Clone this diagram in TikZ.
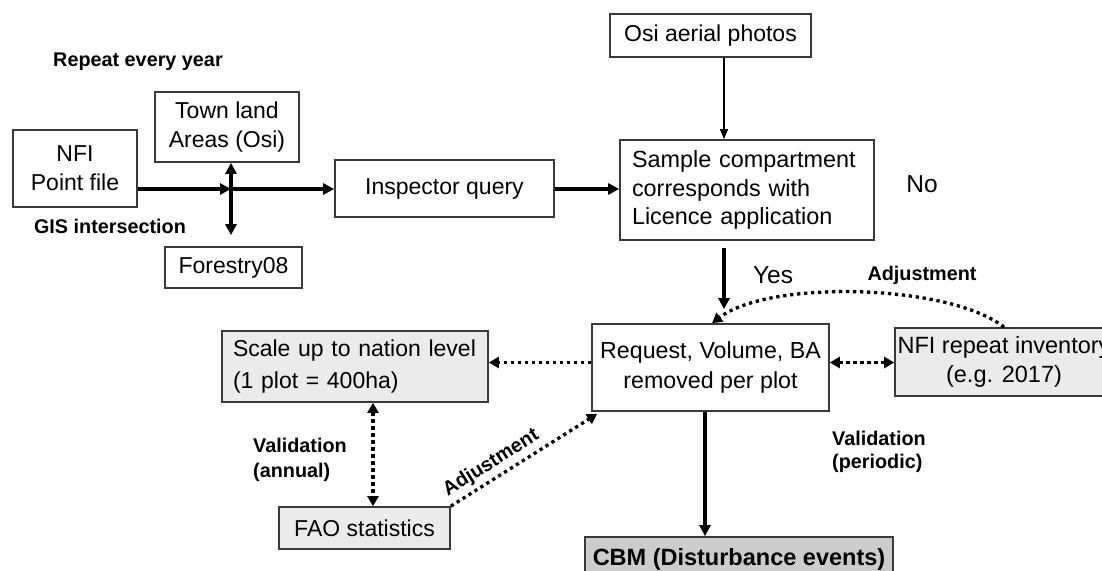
\documentclass[tikz,border=0pt]{standalone}
\usepackage{fontspec}
\setmainfont{Liberation Sans}
\usetikzlibrary{arrows.meta}
\definecolor{boxline}{HTML}{3A3A3A}
\definecolor{lightfill}{HTML}{EBEBEB}
\definecolor{darkfill}{HTML}{CCCCCC}
\begin{document}
\begin{tikzpicture}[x=1pt,y=-1pt,
  box/.style={draw=boxline, line width=1.7pt, inner sep=0pt, align=center,
    font=\fontsize{23}{29}\selectfont},
  graybox/.style={box, fill=lightfill},
  lbl/.style={font=\bfseries\fontsize{19.8}{25}\selectfont, inner sep=0pt},
  big/.style={font=\fontsize{24.5}{28}\selectfont, inner sep=0pt},
  thickarr/.style={line width=3.6pt, -{Triangle[length=11pt,width=11pt]}},
  thinarr/.style={line width=1.4pt, -{Triangle[length=10pt,width=8pt]}},
  dotline/.style={line width=3.3pt, dash pattern=on 3.3pt off 3.7pt},
  dotarr/.style={dotline, -{Triangle[length=10pt,width=11pt]}},
  dotdbl/.style={dotline, {Triangle[length=10pt,width=11pt]}-{Triangle[length=10pt,width=11pt]}}
]
\useasboundingbox (0,0) rectangle (1102,570);
\clip (0,0) rectangle (1102,570);

% nodes
\node[box, minimum width=124pt, minimum height=77pt] (nfi) at (75,168.5) {NFI\\Point file};
\node[box, minimum width=144pt, minimum height=70pt] (town) at (227,127) {Town land\\Areas (Osi)};
\node[box, minimum width=137pt, minimum height=41pt] (forestry) at (233.5,267.5) {Forestry08};
\node[box, minimum width=219pt, minimum height=57pt] (inspector) at (444.5,188.5) {Inspector query};
\node[box, minimum width=201pt, minimum height=43pt] (osi) at (710.5,35.5) {Osi aerial photos};
\node[box, minimum width=254pt, minimum height=100pt, text width=230pt, align=left,
  font=\fontsize{23.4}{28.5}\selectfont] (sample) at (747,190)
  {Sample compartment\\corresponds with\\Licence application};
\node[box, fill=white, minimum width=237pt, minimum height=87pt, font=\fontsize{23.2}{30}\selectfont] (request) at (710.5,367.5)
  {Request, Volume, BA\\removed per plot};
\node[graybox, minimum width=218pt, minimum height=68pt, font=\fontsize{23.5}{29}\selectfont] (nfirep) at (1004,362)
  {NFI repeat inventory\\(e.g. 2017)};
\node[graybox, minimum width=266pt, minimum height=71pt, text width=244pt, align=left,
  font=\fontsize{23}{32}\selectfont] (scale) at (355,366.5)
  {Scale up to nation level\\(1 plot = 400ha)};
\node[graybox, minimum width=171pt, minimum height=42pt] (fao) at (364.5,528) {FAO statistics};
\node[box, fill=darkfill, minimum width=308pt, minimum height=44pt,
  font=\bfseries\fontsize{23.5}{26}\selectfont] (cbm) at (739,559) {CBM (Disturbance events)};

% free labels
\node[lbl] (repeat) at (138,62) {Repeat every year};
\node[lbl] (gis) at (110,226) {GIS intersection};
\node[big] (no) at (922,184) {No};
\node[big] (yes) at (773,275) {Yes};
\node[lbl] (adj1) at (922,275) {Adjustment};
\node[lbl, align=left, anchor=west, font=\bfseries\fontsize{19.8}{25}\selectfont] (val1) at (253,460) {Validation\\(annual)};
\node[lbl, align=left, anchor=west, font=\bfseries\fontsize{19.8}{23}\selectfont] (val2) at (832,452) {Validation\\(periodic)};

% connectors
\coordinate (X) at (231,189);
\draw[thickarr] (nfi.east |- X) -- (X);
\draw[thickarr] (X) -- (inspector.west |- X);
\draw[line width=3.6pt, {Triangle[length=11pt,width=11pt]}-{Triangle[length=11pt,width=11pt]},
  shorten >=11pt] (X |- town.south) -- (X |- forestry.north);
\draw[thickarr] (inspector.east |- X) -- (sample.west |- X);
\draw[thinarr] ([xshift=13.5pt]osi.south) -- ([xshift=13.5pt]osi.south |- sample.north);
\draw[thickarr, shorten <=7pt, shorten >=14pt] ([xshift=13.5pt]request.north |- sample.south) -- ([xshift=13.5pt]request.north);
\draw[dotarr] (nfirep.north) .. controls +(-54,-43) and +(58,-44) .. ([xshift=1.5pt]request.north);
\draw[dotdbl] ([yshift=5pt]request.east) -- ([yshift=5pt]request.east -| nfirep.west);
\draw[dotarr] ([yshift=5pt]request.west) -- ([yshift=5pt]request.west -| scale.east);
\draw[dotdbl] ([xshift=18pt]scale.south) -- ([xshift=18pt]scale.south |- fao.north);
\draw[dotarr] (fao.north east) -- node[pos=0.33, sloped, above=4pt, lbl] (adj2) {Adjustment} ([xshift=6pt,yshift=-2pt]request.south west);
\draw[thickarr] ([xshift=-5.5pt]request.south) -- ([xshift=-5.5pt]request.south |- cbm.north);
\end{tikzpicture}
\end{document}
